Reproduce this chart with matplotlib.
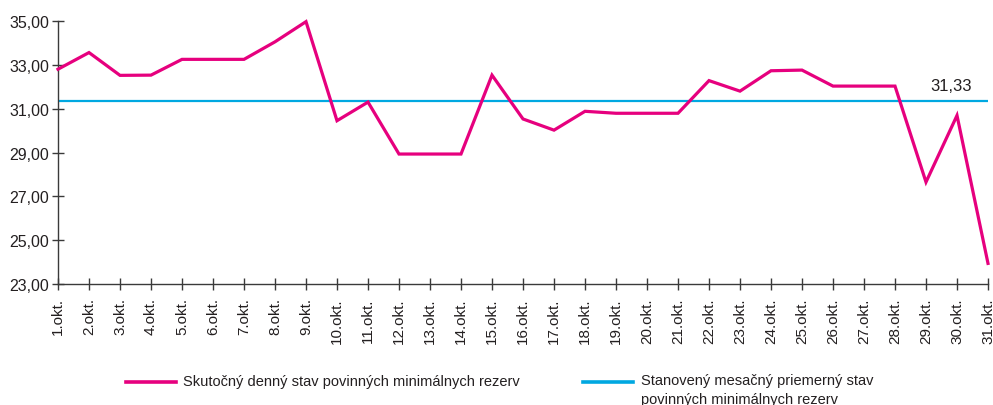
import matplotlib
matplotlib.use("Agg")
import matplotlib.pyplot as plt
from matplotlib.lines import Line2D

plt.rcParams['font.family'] = ['Liberation Sans', 'DejaVu Sans']

days = list(range(1, 32))
day_labels = [f"{d}.okt." for d in days]
actual = [32.80, 33.56, 32.52, 32.53, 33.25, 33.25, 33.25, 34.05, 34.97,
          30.45, 31.30, 28.93, 28.93, 28.93, 32.53, 30.53, 30.02, 30.88,
          30.79, 30.79, 30.79, 32.28, 31.80, 32.73, 32.76, 32.03, 32.03,
          32.03, 27.65, 30.69, 23.94]
avg_value = 31.33
avg_label = "31,33"
y_ticks = [23, 25, 27, 29, 31, 33, 35]
y_tick_labels = ["23,00", "25,00", "27,00", "29,00", "31,00", "33,00", "35,00"]
legend_actual = "Skutočný denný stav povinných minimálnych rezerv"
legend_avg = "Stanovený mesačný priemerný stav\npovinných minimálnych rezerv"

pink = "#E6007E"
blue = "#00A8E1"
txt = "#231F20"
axc = "#3a3a3a"

W, H = 993, 406
fig = plt.figure(figsize=(W/100, H/100), dpi=100)
left, right, top, bottom = 58, 988, 22, 285
ax = fig.add_axes([left/W, 1-bottom/H, (right-left)/W, (bottom-top)/H])

ax.plot(days, actual, color=pink, lw=2.3, solid_joinstyle='miter', zorder=3, clip_on=False)
ax.axhline(avg_value, color=blue, lw=1.6, zorder=2)
ax.text(29.13, avg_value + 0.38, avg_label, fontsize=12, color=txt, ha='left', va='bottom')

ax.set_xlim(1, 31)
ax.set_ylim(23, 35)
ax.set_xticks(days)
ax.set_xticklabels(day_labels, rotation=90, fontsize=11, color=txt)
ax.set_yticks(y_ticks)
ax.set_yticklabels(y_tick_labels, fontsize=11.5, color=txt)
ax.tick_params(axis='both', direction='inout', length=9, width=1, color=axc)
ax.tick_params(axis='x', pad=5)
ax.tick_params(axis='y', pad=2)
for s in ['top', 'right']:
    ax.spines[s].set_visible(False)
for s in ['left', 'bottom']:
    ax.spines[s].set_color(axc)
    ax.spines[s].set_linewidth(1)

# legend
ly = 1 - 382.5/H
fig.add_artist(Line2D([126/W, 176/W], [ly, ly], color=pink, lw=2.6, transform=fig.transFigure))
fig.text(183/W, ly, legend_actual, fontsize=10.5, color=txt, ha='left', va='center')
fig.add_artist(Line2D([583/W, 633/W], [ly, ly], color=blue, lw=2.6, transform=fig.transFigure))
fig.text(641/W, 1 - 374/H, legend_avg, fontsize=10.5, color=txt, ha='left', va='top', linespacing=1.45)

fig.savefig("out.png", dpi=100)
